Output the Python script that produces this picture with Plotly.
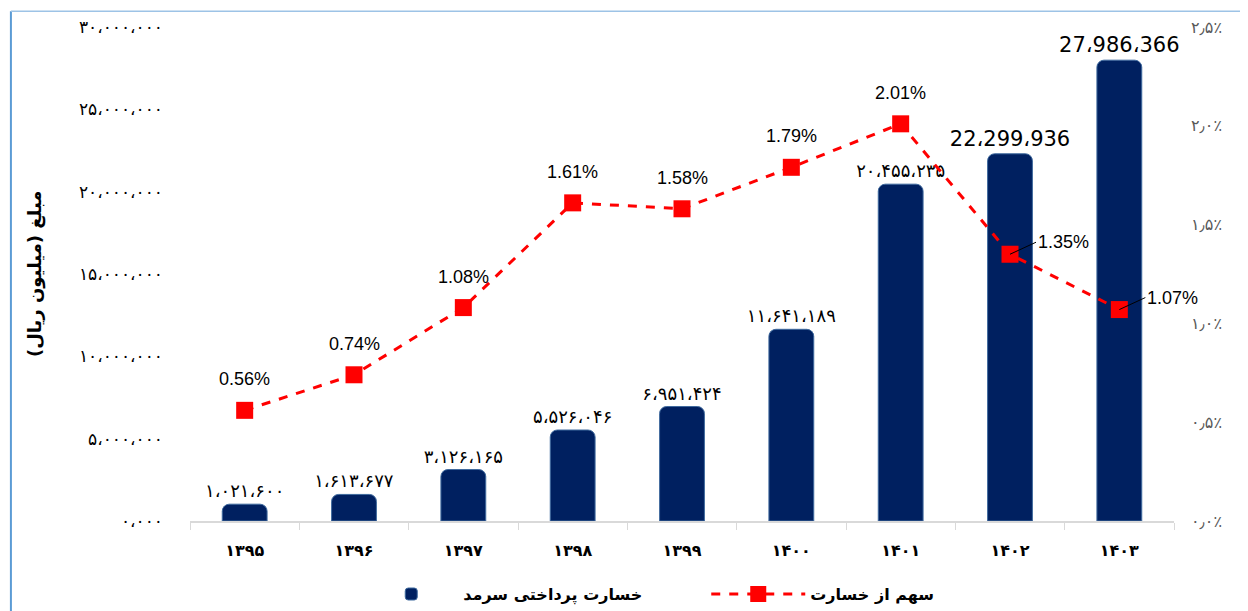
import plotly.graph_objects as go

years = ["۱۳۹۵", "۱۳۹۶", "۱۳۹۷", "۱۳۹۸", "۱۳۹۹", "۱۴۰۰", "۱۴۰۱", "۱۴۰۲", "۱۴۰۳"]
paid_loss = [1021600, 1613677, 3126165, 5526046, 6951424, 11641189, 20455235, 22299936, 27986366]
share_pct = [0.56, 0.74, 1.08, 1.61, 1.58, 1.79, 2.01, 1.35, 1.07]

left_ticks = [0, 5000000, 10000000, 15000000, 20000000, 25000000, 30000000]
right_ticks = [0.0, 0.5, 1.0, 1.5, 2.0, 2.5]

FA = str.maketrans("0123456789", "۰۱۲۳۴۵۶۷۸۹")


def fa_num(v):
    return f"{v:,}".replace(",", "،").translate(FA)


# last two labels are written in latin digits in the original
bar_text = [fa_num(v) for v in paid_loss[:7]] + [f"{v:,}".replace(",", "،") for v in paid_loss[7:]]
bar_font_size = [18] * 7 + [21] * 2

fig = go.Figure()
fig.add_trace(go.Bar(
    x=years, y=paid_loss, name="خسارت پرداختی سرمد",
    marker=dict(color="#002060", line=dict(color="#3f6a9e", width=1), cornerradius=7),
    width=0.41,
    text=bar_text, textposition="outside", cliponaxis=False, constraintext="none",
    textfont=dict(family="DejaVu Sans, Liberation Sans", size=bar_font_size, color="black"),
    hoverinfo="skip",
))

line_text = [f"{v:.2f}%" for v in share_pct]
fig.add_trace(go.Scatter(
    x=years, y=[v / 100 for v in share_pct], yaxis="y2", name="سهم از خسارت",
    mode="lines+markers",
    line=dict(color="#FF0000", width=3, dash="dash"),
    marker=dict(symbol="square", size=17, color="#FF0000"),
    cliponaxis=False, hoverinfo="skip",
))

pct_font = dict(family="Liberation Sans, Arial", size=18, color="black")
for i in range(len(years)):
    if i < 7:
        # labels above the markers
        fig.add_annotation(
            x=years[i], y=share_pct[i] / 100, xref="x", yref="y2", text=line_text[i],
            showarrow=False, yshift=31, font=pct_font,
        )
    else:
        # labels placed to the right with a short leader, as in the original
        fig.add_annotation(
            x=years[i], y=share_pct[i] / 100, xref="x", yref="y2",
            text=line_text[i], showarrow=True, arrowhead=0, arrowwidth=1, arrowcolor="black",
            ax=26, ay=-12, xanchor="left", yanchor="middle", font=pct_font,
        )

fig.add_annotation(
    x=-0.1575, y=0.5, xref="paper", yref="paper", text="<b>مبلغ (میلیون ریال)</b>",
    textangle=-90, showarrow=False, xanchor="center", yanchor="middle",
    font=dict(family="DejaVu Sans", size=18, color="black"),
)

# frame lines of the original sheet
fig.add_shape(type="line", xref="paper", yref="paper", x0=-0.182, x1=-0.182, y0=-0.2, y1=1.032,
              line=dict(color="#5b9bd5", width=2))
fig.add_shape(type="line", xref="paper", yref="paper", x0=-0.182, x1=1.1, y0=1.032, y1=1.032,
              line=dict(color="#9dc3e6", width=1.5))

fig.update_layout(
    width=1248, height=611,
    margin=dict(l=182, r=82, t=19, b=98, autoexpand=False),
    plot_bgcolor="white", paper_bgcolor="white",
    font=dict(family="DejaVu Sans", color="black"),
    showlegend=True,
    legend=dict(orientation="h", x=0.172, xanchor="left", y=-0.148, yanchor="middle",
                font=dict(family="DejaVu Sans", size=16, color="black", weight="bold"),
                itemwidth=94, entrywidth=238, entrywidthmode="pixels", tracegroupgap=0),
    bargap=0.59,
    xaxis=dict(
        range=[-0.5, len(years) - 0.5],
        showgrid=False, showline=True, linecolor="#d9d9d9", linewidth=2,
        ticks="outside", tickson="boundaries", tickcolor="#d9d9d9", ticklen=7,
        tickfont=dict(family="DejaVu Sans", size=16, color="black"),
        tickvals=years, ticktext=[f"<b>{y}</b>" for y in years],
        ticklabelstandoff=14, automargin=False,
    ),
    yaxis=dict(
        range=[0, 30000000], showgrid=False, zeroline=False, showline=False,
        tickvals=left_ticks, ticktext=["۰،۰۰۰"] + [fa_num(v) for v in left_ticks[1:]],
        tickfont=dict(family="DejaVu Sans", size=17, color="black"),
        ticklabelstandoff=26, automargin=False,
    ),
    yaxis2=dict(
        range=[0, 0.025], overlaying="y", side="right", showgrid=False, zeroline=False, showline=False,
        tickvals=[v / 100 for v in right_ticks],
        ticktext=[f"{v:.1f}".replace(".", "٫").translate(FA) + "٪" for v in right_ticks],
        tickfont=dict(family="DejaVu Sans", size=16, color="#595959"),
        ticklabelstandoff=16, automargin=False,
    ),
)

fig.write_html("out.html")
